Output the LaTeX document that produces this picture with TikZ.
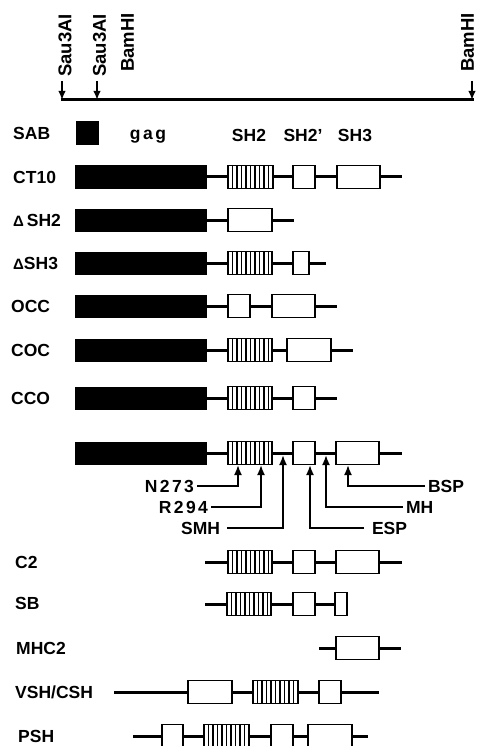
\documentclass[tikz,border=0pt]{standalone}
\usepackage{fontspec}
\setmainfont{Liberation Sans}[UprightFont=* Bold]
\newfontfamily\spaced{Liberation Sans}[UprightFont=* Bold, LetterSpace=14]
\usetikzlibrary{arrows.meta}

% SH2 domain: vertically hatched box, args: left x, right x, centre y
\newcommand{\shbox}[3]{%
  \draw[dom] (#1,#3-11.5) rectangle (#2,#3+11.5);
  \foreach \hx in {1,...,9}
    \draw[line width=1.1pt] (#1+\hx*4.5,#3-11.5) -- (#1+\hx*4.5,#3+11.5);
}

\begin{document}
\begin{tikzpicture}[x=1pt, y=-1pt,
  bb/.style={line width=3pt},
  gagbar/.style={fill=black},
  dom/.style={draw, fill=white, line width=1.6pt},
  lbl/.style={anchor=base west, inner sep=0pt, font=\fontsize{17.5}{17.5}\selectfont},
  head/.style={anchor=base, inner sep=0pt, font=\fontsize{17.5}{17.5}\selectfont},
  site/.style={inner sep=0pt, outer sep=3pt, font=\fontsize{17.5}{17.5}\selectfont},
  enz/.style={rotate=90, anchor=west, inner sep=0pt, font=\fontsize{18.5}{18.5}\selectfont},
  cut/.style={line width=1.8pt, -{Latex[length=9pt, width=7.5pt]}},
  mut/.style={line width=1.8pt, -{Latex[length=10pt, width=8pt]}}]
\useasboundingbox (0,0) rectangle (477,746);
% restriction map
\draw[line width=3pt] (60.5,100) -- (473.5,100);
\draw[cut] (62,81) -- (62,100);
\draw[cut] (97,81) -- (97,100);
\draw[cut] (472,81) -- (472,100);
\node[enz] (sau1) at (65,77) {Sau3AI};
\node[enz] (sau2) at (99.5,77) {Sau3AI};
\node[enz] (bam1) at (127.5,72) {BamHI};
\node[enz] (bam2) at (467.5,72) {BamHI};
% header
\node[lbl] (sab) at (13,140) {SAB};
\fill (76,121) rectangle (99,145);
\node[head] (gag) at (148,140) {\spaced gag};
\node[head] (hsh2) at (249,142) {SH2};
\node[head] (hsh2p) at (303,142) {SH2'};
\node[head] (hsh3) at (355,142) {SH3};
% CT10
\node[lbl] (ct10) at (13,183) {CT10};
\draw[bb] (207,177) -- (402,177);
\fill[gagbar] (75,165.5) rectangle (207,188.5);
\shbox{228}{273}{177}
\draw[dom] (293,165.5) rectangle (315,188.5);
\draw[dom] (337,165.5) rectangle (380,188.5);
% delta SH2
\node[lbl] (dsh2) at (13,226) {{\fontsize{15}{15}\selectfont Δ}\,SH2};
\draw[bb] (207,220) -- (294,220);
\fill[gagbar] (75,208.5) rectangle (207,231.5);
\draw[dom] (228,208.5) rectangle (272,231.5);
% delta SH3
\node[lbl] (dsh3) at (13,269) {{\fontsize{15}{15}\selectfont Δ}SH3};
\draw[bb] (207,263) -- (326,263);
\fill[gagbar] (75,251.5) rectangle (207,274.5);
\shbox{228}{272}{263}
\draw[dom] (293,251.5) rectangle (309,274.5);
% OCC
\node[lbl] (occ) at (11,312) {OCC};
\draw[bb] (207,306) -- (337,306);
\fill[gagbar] (75,294.5) rectangle (207,317.5);
\draw[dom] (228,294.5) rectangle (250,317.5);
\draw[dom] (272,294.5) rectangle (315,317.5);
% COC
\node[lbl] (coc) at (11,356) {COC};
\draw[bb] (207,350) -- (353,350);
\fill[gagbar] (75,338.5) rectangle (207,361.5);
\shbox{228}{272}{350}
\draw[dom] (287,338.5) rectangle (331,361.5);
% CCO
\node[lbl] (cco) at (11,404) {CCO};
\draw[bb] (207,398) -- (337,398);
\fill[gagbar] (75,386.5) rectangle (207,409.5);
\shbox{228}{272}{398}
\draw[dom] (293,386.5) rectangle (315,409.5);
% point mutants
\draw[bb] (207,453) -- (402,453);
\fill[gagbar] (75,441.5) rectangle (207,464.5);
\shbox{228}{272}{453}
\draw[dom] (293,441.5) rectangle (315,464.5);
\draw[dom] (336,441.5) rectangle (379,464.5);
\coordinate (p273) at (238,465);
\coordinate (p294) at (261,465);
\coordinate (psmh) at (283,455);
\coordinate (pesp) at (310,465);
\coordinate (pmh) at (326,455);
\coordinate (pbsp) at (348,465);
\node[site, anchor=east] (n273) at (197,486) {\spaced N273};
\node[site, anchor=east] (r294) at (211,507) {\spaced R294};
\node[site, anchor=east, outer sep=7pt] (smh) at (227,528) {SMH};
\node[site, anchor=west] (bsp) at (425,486) {BSP};
\node[site, anchor=west] (mh) at (403,507) {MH};
\node[site, anchor=west, outer sep=8pt] (esp) at (364,528) {ESP};
\draw[mut] (n273.east) -| (p273);
\draw[mut] (r294.east) -| (p294);
\draw[mut] (smh.east) -| (psmh);
\draw[mut] (bsp.west) -| (pbsp);
\draw[mut] (mh.west) -| (pmh);
\draw[mut] (esp.west) -| (pesp);
% C2
\node[lbl] (c2) at (15,568) {C2};
\draw[bb] (205,562) -- (402,562);
\shbox{228}{272}{562}
\draw[dom] (293,550.5) rectangle (315,573.5);
\draw[dom] (336,550.5) rectangle (379,573.5);
% SB
\node[lbl] (sb) at (15,609) {SB};
\draw[bb] (205,604) -- (341,604);
\shbox{227}{271}{604}
\draw[dom] (293,592.5) rectangle (315,615.5);
\draw[dom] (335,592.5) rectangle (347,615.5);
% MHC2
\node[lbl] (mhc2) at (16,654) {MHC2};
\draw[bb] (319,648) -- (401,648);
\draw[dom] (336,636.5) rectangle (379,659.5);
% VSH/CSH
\node[lbl] (vsh) at (15,698) {VSH/CSH};
\draw[bb] (114,692) -- (379,692);
\draw[dom] (188,680.5) rectangle (232,703.5);
\shbox{253}{298}{692}
\draw[dom] (319,680.5) rectangle (341,703.5);
% PSH
\node[lbl] (psh) at (18,742) {PSH};
\draw[bb] (133,736) -- (368,736);
\draw[dom] (162,724.5) rectangle (183,747.5);
\shbox{204}{249}{736}
\draw[dom] (271,724.5) rectangle (293,747.5);
\draw[dom] (308,724.5) rectangle (352,747.5);
\end{tikzpicture}
\end{document}
